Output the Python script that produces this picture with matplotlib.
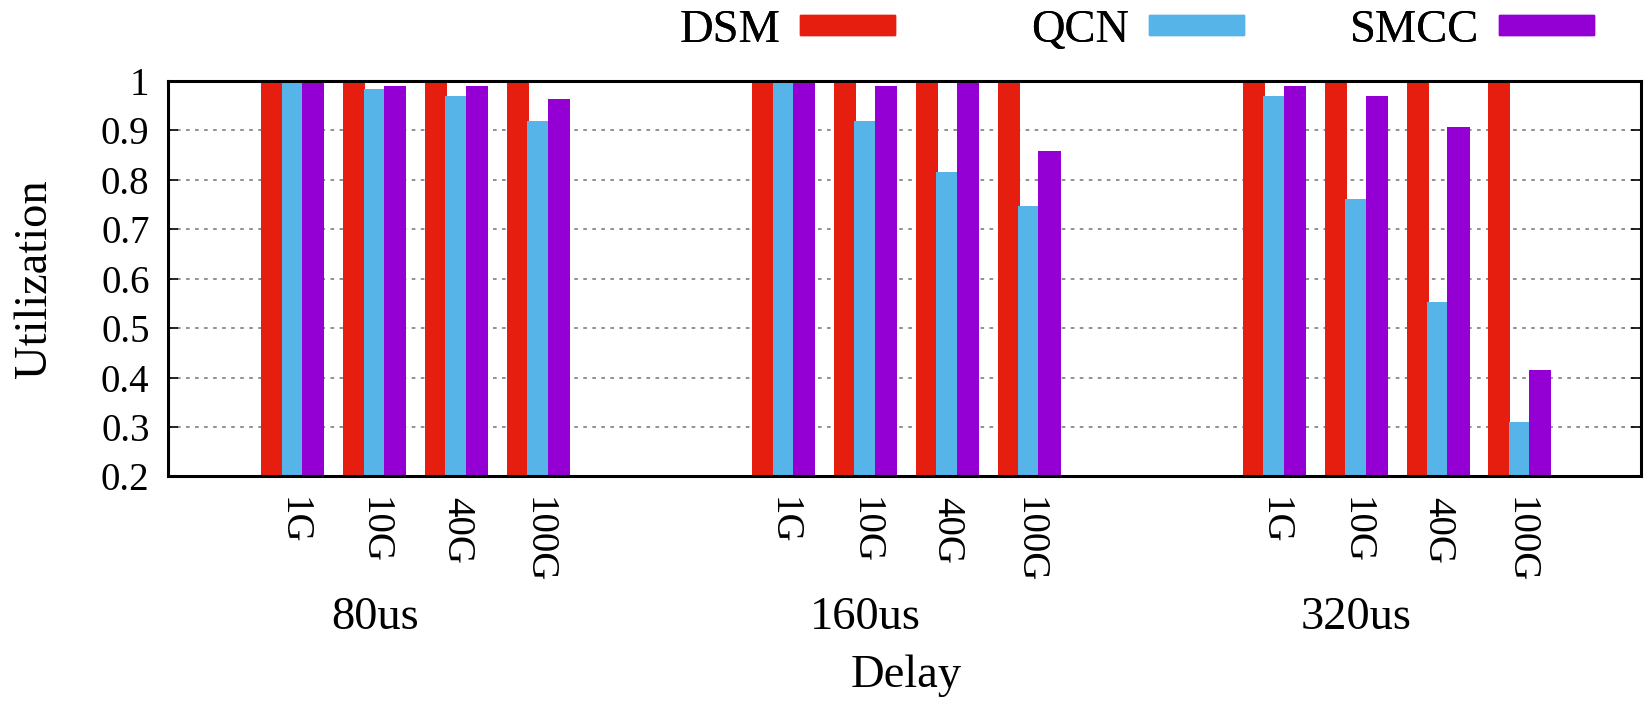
import numpy as np
import matplotlib
matplotlib.use("Agg")
import matplotlib.pyplot as plt
from matplotlib.patches import Patch

plt.rcParams['font.family'] = ['Liberation Serif', 'DejaVu Serif']

# data
delays = ['80us', '160us', '320us']
links = ['1G', '10G', '40G', '100G']
series = ['DSM', 'QCN', 'SMCC']
dsm = [1.0, 1.0, 1.0, 1.0,
       1.0, 1.0, 1.0, 1.0,
       1.0, 1.0, 1.0, 1.0]
qcn = [1.0, 0.983, 0.970, 0.920,
       1.0, 0.920, 0.815, 0.747,
       0.970, 0.761, 0.553, 0.310]
smcc = [1.0, 0.990, 0.990, 0.963,
        1.0, 0.990, 1.0, 0.858,
        0.990, 0.970, 0.907, 0.415]

colors = {'DSM': '#E51E10', 'QCN': '#56B4E9', 'SMCC': '#9400D3'}

# x positions: clusters 1 apart, delay groups 6 apart
x = np.array([6 * g + c for g in range(len(delays)) for c in range(len(links))], dtype=float)
xlabels = links * len(delays)

fig = plt.figure(figsize=(16.5, 7.01), dpi=100)
ax = fig.add_axes([0.1016, 0.3203, 0.8929, 0.5642])

w = 0.27
ax.bar(x - 0.25, dsm, w, color=colors['DSM'], zorder=2)
ax.bar(x, qcn, w, color=colors['QCN'], zorder=3)
ax.bar(x + 0.25, smcc, w, color=colors['SMCC'], zorder=4)

ax.set_xlim(-1.53, 16.48)
ax.set_ylim(0.2, 1.0)
ax.set_yticks([0.2, 0.3, 0.4, 0.5, 0.6, 0.7, 0.8, 0.9, 1.0])
ax.set_yticklabels(['0.2', '0.3', '0.4', '0.5', '0.6', '0.7', '0.8', '0.9', '1'])
ax.set_xticks(x)
ax.set_xticklabels(xlabels, rotation=270)

ax.tick_params(axis='y', direction='in', length=7, width=1.2, right=True,
               labelsize=28, pad=13)
ax.tick_params(axis='x', length=0, labelsize=28, pad=14.5)

ax.grid(axis='y', color='#888888', linestyle=(0, (2, 3)), linewidth=1.3)
ax.set_axisbelow(True)
for s in ax.spines.values():
    s.set_linewidth(2.2)
    s.set_zorder(10)

# delay group labels
for g, d in enumerate(delays):
    ax.text(6 * g + 1, -0.3856, d, transform=ax.get_xaxis_transform(),
            ha='center', va='baseline', fontsize=33.5)

fig.text(906 / 1650, 0.020, 'Delay', ha='center', va='baseline', fontsize=33.5)
fig.text(0.0212, 0.602, 'Utilization', rotation=90, ha='center', va='center', fontsize=33.5)

# gnuplot-style key: equal-width columns, text right-aligned before the sample
key_right = [895, 1244, 1594]
for name, xr in zip(series, key_right):
    leg = fig.legend(handles=[Patch(color=colors[name], label=name)], loc='center right',
                     bbox_to_anchor=(xr / 1650, 1 - 30.7 / 701), frameon=False,
                     markerfirst=False, fontsize=33.5, handlelength=2.04,
                     handleheight=0.278, handletextpad=0.42, borderpad=0,
                     borderaxespad=0)
    fig.add_artist(leg)

plt.savefig("out.png", dpi=100)
plt.close()
